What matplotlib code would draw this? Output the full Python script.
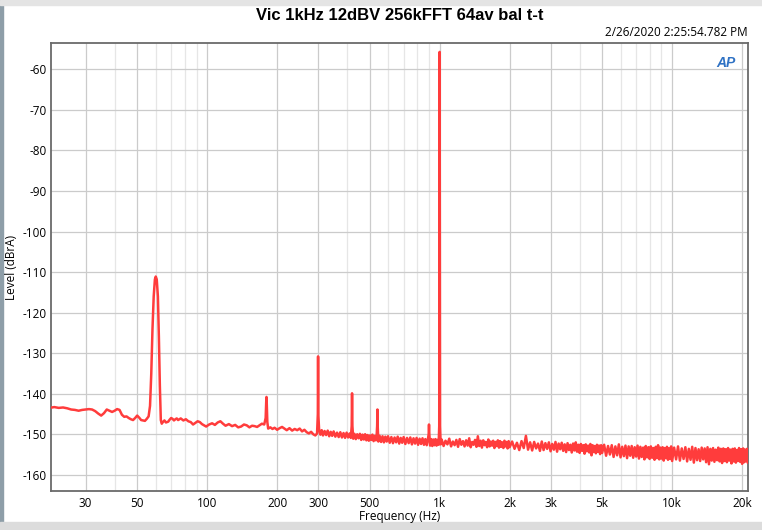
import matplotlib
matplotlib.use("Agg")
import matplotlib.pyplot as plt
from matplotlib.patches import Rectangle

# ---- data (Hz, dBrA) ----
freq_low = [21, 22, 23, 24, 25, 26, 27, 28, 29, 30, 31, 32, 33, 34, 35, 36, 37, 38, 39, 40,
            41, 42, 43, 44, 45, 46, 47, 48, 49, 50, 51, 52, 53, 54, 55, 56,
            56.8, 57.5, 58.2, 58.9, 59.6, 60.1, 60.7, 61.4, 62.0, 62.6, 63.2, 63.8, 64.5,
            65.5, 66.5, 68, 69, 70, 71, 72, 73, 74, 75, 77, 79, 81, 83, 85, 87, 89, 91, 93,
            95, 97, 99, 102, 105, 108, 111, 114, 117, 120, 124, 128, 132, 136, 140, 144, 148,
            152, 156, 160, 164, 168, 172, 176, 178.5, 179.5, 180, 180.5, 181.5, 183, 187, 191,
            195, 200, 205, 210, 215, 220, 226, 232, 238, 244, 250, 256, 262, 268, 274, 280,
            286, 292, 297, 299.3, 300, 300.7]
level_low = [-143.5, -143.3, -143.5, -143.4, -143.6, -143.9, -144.0, -144.2, -144.0, -143.9,
             -143.8, -143.9, -144.3, -144.9, -145.4, -144.8, -143.9, -144.2, -144.5, -144.2,
             -143.8, -144.0, -145.2, -145.7, -145.6, -146.0, -146.3, -146.5, -146.0, -145.4,
             -145.9, -146.5, -146.6, -146.7, -146.2, -145.6,
             -143.0, -135.0, -124.0, -116.0, -111.8, -111.1, -111.8, -116.0, -126.0, -138.0,
             -146.5, -147.4, -147.0,
             -146.6, -147.1, -146.9, -146.4, -146.0, -146.2, -146.6, -146.3, -146.1, -146.5,
             -146.1, -146.6, -146.3, -146.8, -147.0, -147.6, -147.2, -146.8, -147.0,
             -147.5, -147.8, -148.1, -147.6, -147.3, -147.7, -147.1, -146.8, -147.4, -147.9,
             -147.5, -148.0, -147.7, -148.3, -148.1, -147.6, -147.8,
             -148.3, -147.9, -148.0, -148.2, -147.8, -147.4, -147.6, -146.0, -142.0, -140.8,
             -142.5, -147.0, -148.6, -148.3, -148.7,
             -148.4, -148.9, -148.5, -148.2, -148.6, -149.0, -148.5, -149.1, -148.7, -149.0,
             -148.6, -149.3, -148.9, -149.5, -149.8, -149.4,
             -150.0, -150.3, -149.8, -145.0, -130.8, -145.0]

freq_mid = [303, 307, 311, 315, 320, 325, 330, 335, 340, 345,
            350, 356, 362, 368, 374, 380, 386, 392, 398, 404,
            410, 415, 418.5, 420, 421.5, 425, 430, 436, 442, 448,
            454, 460, 466, 472, 478, 484, 490, 496, 502, 508,
            514, 520, 526, 532, 536, 538.5, 540, 541.5, 545, 552,
            560, 568, 576, 584, 592, 600, 610, 620, 630, 640,
            650, 660, 670, 680, 690, 700, 712, 724, 736, 748,
            760, 772, 784, 796, 808, 820, 832, 844, 856, 868,
            880, 890, 897, 900, 903, 910, 920, 930, 940, 950,
            960, 970, 980, 990, 996, 1000, 1004, 1010]
level_mid = [-148.8, -150.1, -149.0, -150.3, -149.2, -150.2, -149.1, -150.5, -149.4, -150.4,
             -149.3, -150.6, -149.6, -150.7, -149.5, -150.8, -149.7, -150.9, -149.6, -150.8,
             -149.8, -150.9, -148.0, -139.9, -148.0, -151.1, -149.9, -151.2, -150.0, -151.0,
             -149.9, -151.4, -150.1, -151.3, -150.0, -151.5, -150.2, -151.6, -150.3, -151.4,
             -150.1, -151.7, -150.4, -151.5, -150.2, -148.0, -143.9, -148.0, -151.8, -150.4,
             -151.9, -150.5, -152.0, -150.6, -151.8, -150.5, -152.1, -150.7, -152.2, -150.8,
             -152.0, -150.6, -152.3, -150.9, -152.1, -150.7, -152.4, -150.9, -152.2, -150.8,
             -152.5, -151.0, -152.3, -150.9, -152.6, -151.1, -152.4, -151.0, -152.6, -151.2,
             -152.7, -151.3, -150.0, -147.6, -150.0, -152.8, -151.2, -152.9, -151.3, -152.7,
             -151.2, -152.8, -151.4, -152.6, -148.0, -55.7, -148.0, -152.5]

freq_high = [1020, 1040, 1060, 1080, 1100, 1120, 1140, 1160, 1180, 1200,
             1220, 1240, 1260, 1280, 1300, 1320, 1340, 1360, 1380, 1400,
             1420, 1440, 1460, 1480, 1500, 1520, 1540, 1560, 1580, 1600,
             1620, 1640, 1660, 1680, 1700, 1720, 1740, 1760, 1780, 1800,
             1820, 1840, 1860, 1880, 1900, 1920, 1940, 1960, 1980, 2000,
             2050, 2100, 2150, 2200, 2250, 2300, 2350, 2400, 2450, 2500,
             2550, 2600, 2650, 2700, 2750, 2800, 2850, 2900, 2950, 3000,
             3050, 3100, 3150, 3200, 3250, 3300, 3350, 3400, 3450, 3500,
             3550, 3600, 3650, 3700, 3750, 3800, 3850, 3900, 3950, 4000,
             4050, 4100, 4150, 4200, 4250, 4300, 4350, 4400, 4450, 4500,
             4550, 4600, 4650, 4700, 4750, 4800, 4850, 4900, 4950, 5000,
             5100, 5200, 5300, 5400, 5500, 5600, 5700, 5800, 5900, 6000,
             6100, 6200, 6300, 6400, 6500, 6600, 6700, 6800, 6900, 7000,
             7100, 7200, 7300, 7400, 7500, 7600, 7700, 7800, 7900, 8000,
             8100, 8200, 8300, 8400, 8500, 8600, 8700, 8800, 8900, 9000,
             9100, 9200, 9300, 9400, 9500, 9600, 9700, 9800, 9900, 10000,
             10200, 10400, 10600, 10800, 11000, 11200, 11400, 11600, 11800, 12000,
             12200, 12400, 12600, 12800, 13000, 13200, 13400, 13600, 13800, 14000,
             14200, 14400, 14600, 14800, 15000, 15200, 15400, 15600, 15800, 16000,
             16200, 16400, 16600, 16800, 17000, 17200, 17400, 17600, 17800, 18000,
             18200, 18400, 18600, 18800, 19000, 19200, 19400, 19600, 19800, 20000,
             20200, 20400, 20600, 20800, 21000, 21200]
level_high = [-151.3, -152.9, -151.6, -152.5, -151.1, -153.0, -151.8, -152.7, -151.4, -153.1,
              -151.2, -152.6, -151.7, -153.0, -151.5, -152.8, -151.0, -153.2, -151.9, -152.6,
              -151.4, -153.1, -150.5, -152.9, -151.6, -153.3, -151.5, -152.7, -151.9, -153.2,
              -151.3, -153.0, -151.8, -152.8, -151.6, -153.4, -151.9, -152.9, -151.5, -153.3,
              -151.7, -153.1, -152.0, -153.4, -151.6, -153.0, -151.9, -153.5, -151.7, -153.2,
              -151.8, -153.6, -152.1, -153.9, -151.7, -153.4, -150.4, -153.8, -152.0, -154.0,
              -151.9, -153.5, -152.3, -154.1, -151.8, -153.9, -152.2, -153.6, -152.0, -154.2,
              -152.4, -153.8, -151.9, -154.3, -152.3, -153.7, -152.1, -154.1, -152.5, -154.4,
              -152.2, -153.9, -152.6, -154.5, -152.3, -154.0, -152.0, -154.3, -152.6, -154.6,
              -152.4, -154.1, -152.7, -154.8, -152.5, -154.2, -152.8, -154.5, -152.4, -155.2,
              -152.7, -154.4, -152.9, -154.7, -152.6, -154.3, -152.8, -154.9, -152.7, -154.6,
              -152.6, -155.3, -152.9, -155.0, -152.7, -155.6, -153.0, -155.2, -152.5, -155.7,
              -153.1, -155.4, -152.8, -155.9, -153.0, -155.3, -152.9, -155.8, -153.2, -155.5,
              -152.8, -156.0, -153.1, -155.6, -153.3, -156.2, -152.9, -155.7, -153.2, -156.1,
              -153.0, -155.8, -153.4, -156.3, -153.1, -155.9, -152.7, -156.2, -153.3, -156.0,
              -153.2, -156.5, -153.4, -155.9, -153.1, -156.3, -153.5, -156.1, -153.0, -156.6,
              -153.3, -156.2, -153.0, -156.5, -153.5, -156.1, -153.2, -156.7, -153.6, -156.3,
              -153.1, -157.0, -153.4, -156.4, -153.7, -156.6, -153.3, -156.2, -153.5, -156.9,
              -153.2, -157.4, -153.6, -156.5, -153.4, -156.8, -153.8, -156.4, -153.3, -156.7,
              -153.6, -157.1, -153.5, -156.6, -153.7, -156.9, -153.4, -156.5, -153.8, -157.2,
              -153.6, -156.7, -153.5, -157.0, -153.9, -156.6, -153.4, -156.8, -153.7, -157.3,
              -153.5, -156.9, -153.8, -156.7, -153.6, -157.0]

x_ticks = [30, 50, 100, 200, 300, 500, 1000, 2000, 3000, 5000, 10000, 20000]
x_labels = ["30", "50", "100", "200", "300", "500", "1k", "2k", "3k", "5k", "10k", "20k"]
x_minor = [40, 60, 70, 80, 90, 400, 600, 700, 800, 900, 4000, 6000, 7000, 8000, 9000]
y_ticks = [-60, -70, -80, -90, -100, -110, -120, -130, -140, -150, -160]

title = "Vic 1kHz 12dBV 256kFFT 64av bal t-t"
stamp = "2/26/2020 2:25:54.782 PM"

freq = freq_low + freq_mid + freq_high
level = level_low + level_mid + level_high

plt.rcParams["font.family"] = ["Open Sans", "DejaVu Sans"]

fig = plt.figure(figsize=(7.62, 5.30), dpi=100)
ax = fig.add_axes([51 / 762, 1 - 491 / 530, 697 / 762, 448 / 530])

ax.plot(freq, level, color="#ff3c3c", lw=1.8, solid_joinstyle="round", zorder=3)

ax.set_xscale("log")
ax.set_xlim(21.3, 21200)
ax.set_ylim(-164, -53.5)

ax.set_xticks(x_ticks)
ax.set_xticklabels(x_labels)
ax.set_xticks(x_minor, minor=True)
ax.set_xticklabels([], minor=True)
ax.set_yticks(y_ticks)
ax.set_yticklabels([str(v) for v in y_ticks])

ax.grid(True, which="major", color="#cbcbcb", lw=0.9)
ax.grid(True, which="minor", axis="x", color="#e6e6e6", lw=0.9)
ax.tick_params(which="both", length=0, labelsize=8.5)
ax.tick_params(axis="y", pad=3)
ax.tick_params(axis="x", pad=4)
for s in ax.spines.values():
    s.set_color("#6a6a6a")
    s.set_linewidth(1.3)

ax.set_xlabel("Frequency (Hz)", fontsize=8.5, labelpad=0)
ax.set_ylabel("Level (dBrA)", fontsize=8.5)
ax.yaxis.set_label_coords(-33 / 697, 0.5)

fig.text(400 / 762, 1 - 16 / 530, title, ha="center", va="center", fontsize=12,
         fontweight="bold", family=["Liberation Sans Narrow", "Liberation Sans"])
fig.text(748 / 762, 1 - 33 / 530, stamp, ha="right", va="center", fontsize=8.5)
ax.text(0.982, 0.955, "AP", transform=ax.transAxes, ha="right", va="center",
        fontsize=10, fontweight="bold", style="italic", color="#2f72c4",
        family=["Liberation Sans", "DejaVu Sans"])

# bits of the surrounding application window in the screenshot
fig.patches.append(Rectangle((0, 0), 3 / 762, 1, transform=fig.transFigure,
                             color="#8e9ea8", zorder=-1))
fig.patches.append(Rectangle((0, 0), 1, 8 / 530, transform=fig.transFigure,
                             color="#dcdcdc", zorder=-1))
fig.patches.append(Rectangle((0, 1 - 5 / 530), 1, 5 / 530, transform=fig.transFigure,
                             color="#e4e4e4", zorder=-1))

fig.savefig("out.png", dpi=100)
plt.close(fig)
